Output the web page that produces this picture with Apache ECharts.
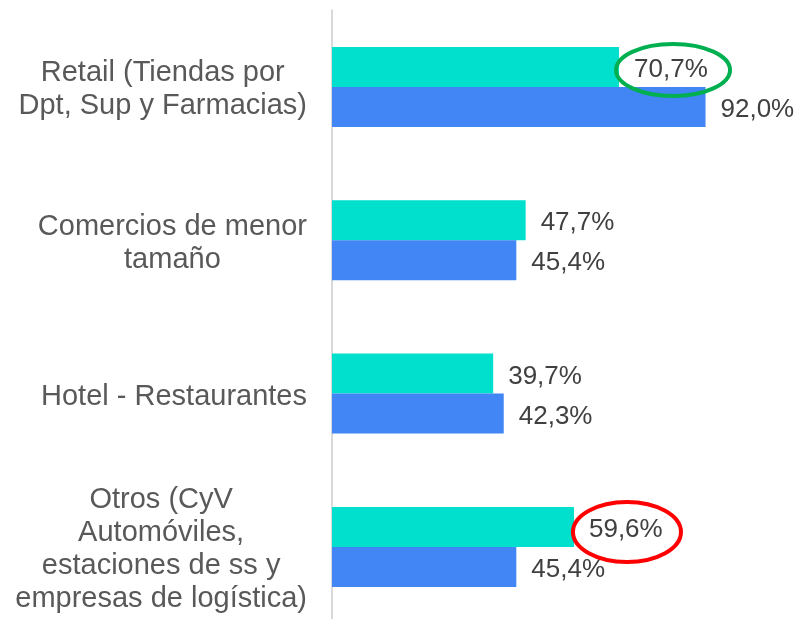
<!DOCTYPE html>
<html>
<head>
<meta charset="utf-8">
<script src="https://cdn.jsdelivr.net/npm/echarts@6/dist/echarts.min.js"></script>
<style>
html,body{margin:0;padding:0;background:#fff;overflow:hidden;}
#chart{width:800px;height:630px;}
</style>
</head>
<body>
<div id="chart"></div>
<script>
const categories = [
  'Retail (Tiendas por\nDpt, Sup y Farmacias)',
  'Comercios de menor\ntamaño',
  'Hotel - Restaurantes',
  'Otros (CyV\nAutomóviles,\nestaciones de ss y\nempresas de logística)'
];
const seriesA = [70.7, 47.7, 39.7, 59.6];
const seriesB = [92.0, 45.4, 42.3, 45.4];

const chart = echarts.init(document.getElementById('chart'));
const fmt = p => p.value.toFixed(1).replace('.', ',') + '%';
const labelStyle = {
  show: true, position: 'right', distance: 15, offset: [0, 3], formatter: fmt,
  fontFamily: 'Liberation Sans, Arial, sans-serif', fontSize: 26, color: '#404040'
};
chart.setOption({
  animation: false,
  grid: { left: 332, top: 10.3, width: 406, height: 613.3 },
  xAxis: {
    type: 'value', min: 0, max: 100, show: false
  },
  yAxis: {
    type: 'category', data: categories, inverse: true,
    axisLine: { show: true, lineStyle: { color: '#d9d9d9', width: 2 } },
    axisTick: { show: false },
    axisLabel: {
      margin: 25,
      padding: [6, 0, 0, 0],
      formatter: v => v.split('\n').map(l => '{c|' + l + '}').join('\n'),
      rich: {
        c: {
          align: 'center', fontFamily: 'Liberation Sans, Arial, sans-serif',
          fontSize: 29, lineHeight: 33, color: '#595959'
        }
      }
    }
  },
  series: [
    {
      type: 'bar', data: seriesA, barWidth: 40, barGap: '0%',
      itemStyle: { color: '#00E0CC' }, label: labelStyle
    },
    {
      type: 'bar', data: seriesB, barWidth: 40, barGap: '0%',
      itemStyle: { color: '#4285F4' }, label: labelStyle
    }
  ]
});

// Annotation ellipses around highlighted labels (positioned via axis conversion)
function ellipseAt(catIdx, value, color, rx, ry, dx, dy) {
  const p = chart.convertToPixel({ gridIndex: 0 }, [value, catIdx]);
  return {
    type: 'ellipse',
    shape: { cx: p[0] + dx, cy: p[1] + dy, rx: rx, ry: ry },
    style: { fill: 'none', stroke: color, lineWidth: 4 },
    z: 100
  };
}
chart.setOption({
  graphic: [
    ellipseAt(0, seriesA[0], '#00B050', 57, 26, 54, -17),
    ellipseAt(3, seriesA[3], '#FF0000', 54, 30, 53, -15)
  ]
});
</script>
</body>
</html>
